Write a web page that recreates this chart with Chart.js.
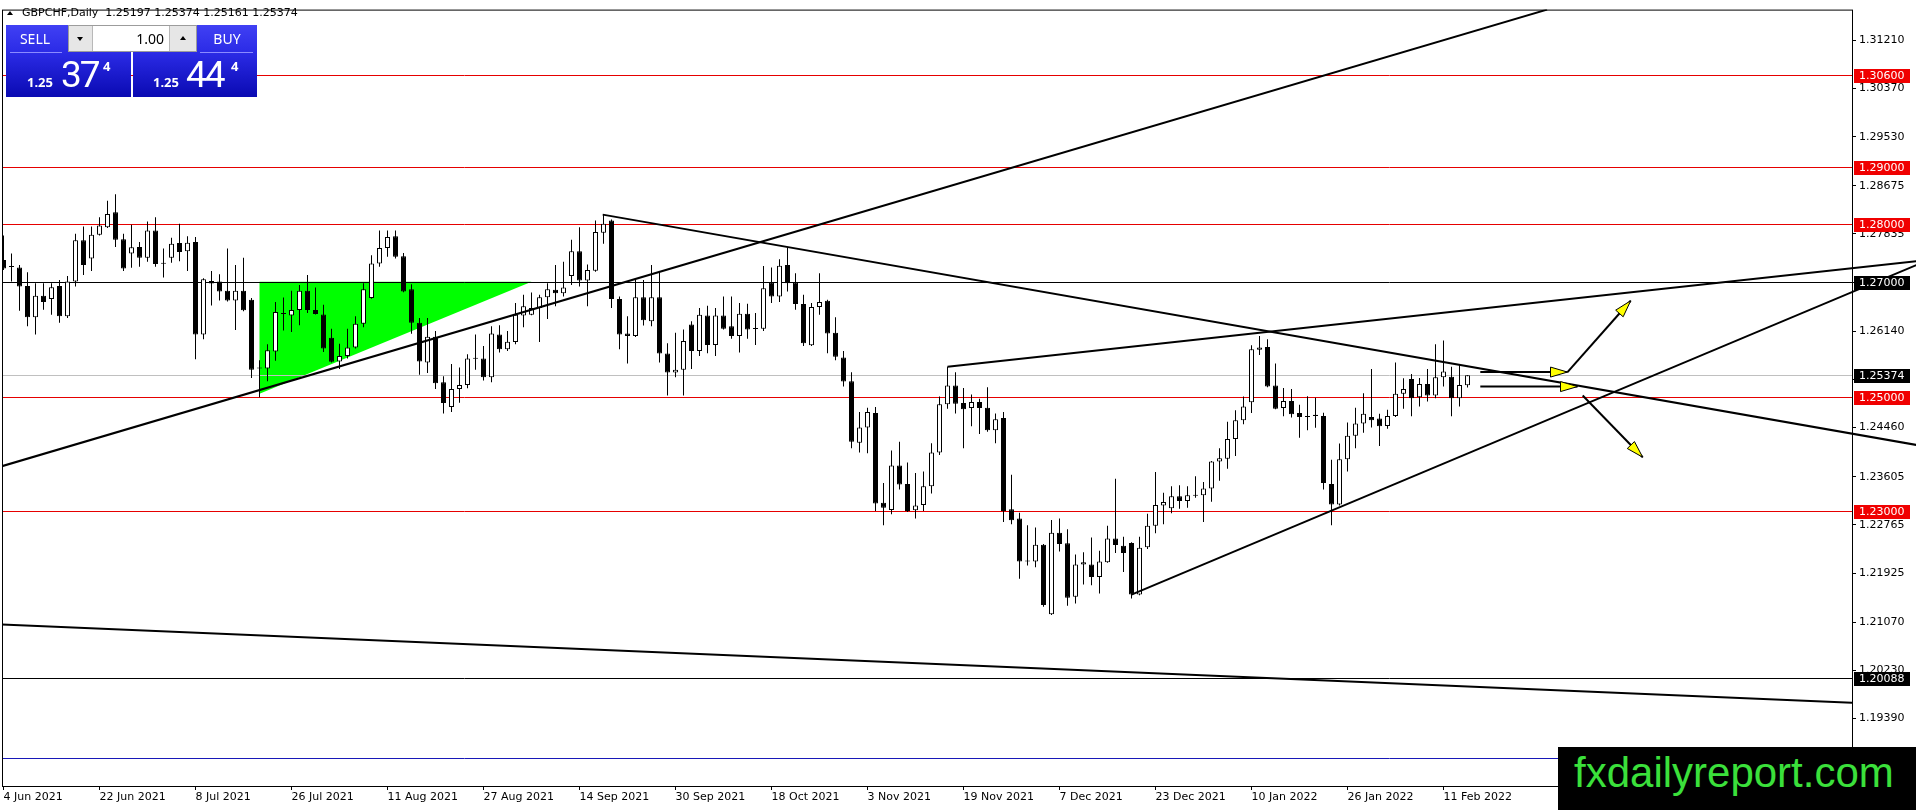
<!DOCTYPE html>
<html>
<head>
<meta charset="utf-8">
<script src="https://cdn.jsdelivr.net/npm/chart.js@4.4.1/dist/chart.umd.min.js"></script>
<style>
html, body { margin: 0; padding: 0; background: #fff; overflow: hidden; }
#wrap { position: relative; width: 1916px; height: 810px; }
#chart { position: absolute; left: 0; top: 0; }
.abs { position: absolute; }
.hdr { left: 22px; top: 6px; font: 11px "DejaVu Sans"; line-height: 13px; white-space: pre; color: #000; }
.tri-up { width: 0; height: 0; border-left: 3.5px solid transparent; border-right: 3.5px solid transparent; border-bottom: 4px solid #000; }
.tri-dn { width: 0; height: 0; border-left: 3.5px solid transparent; border-right: 3.5px solid transparent; border-top: 4px solid #000; }
.btn { top: 25px; height: 72px; background: linear-gradient(to bottom, #4040f4 0%, #2b2be6 38%, #0a0ab2 100%); }
.lbl { color: #fff; font: 14px "Noto Sans"; text-align: center; line-height: 27px; top: 25px; height: 27px; }
.sep { top: 52px; height: 1px; background: #8a8aff; }
.ctrl { left: 68px; top: 25px; width: 129px; height: 27px; box-sizing: border-box; background: #e6e6e6; border: 1px solid #9c9c9c; }
.inp { left: 92px; top: 26px; width: 78px; height: 25px; background: #fff; box-sizing: border-box; border-left: 1px solid #b8b8b8; border-right: 1px solid #b8b8b8; font: 14px "Noto Sans"; text-align: right; line-height: 25px; padding-right: 5px; color: #000; }
.small { color: #fff; font: bold 13px "Noto Sans"; line-height: 13px; }
.big { color: #fff; font: 37px Roboto; line-height: 37px; letter-spacing: -2px; }
.sup { color: #fff; font: bold 13px "Noto Sans"; line-height: 13px; }
.wm { left: 1558px; top: 747px; width: 358px; height: 63px; background: #000; }
.wmtext { left: 1574px; top: 752px; font: 42px "Liberation Sans"; line-height: 42px; color: #3be03b; white-space: pre; }
</style>
</head>
<body>
<div id="wrap">
  <canvas id="chart" width="1916" height="810"></canvas>

  <div class="abs tri-up" style="left:7px; top:11px;"></div>
  <div class="abs hdr">GBPCHF,Daily  1.25197 1.25374 1.25161 1.25374</div>

  <div class="abs btn" style="left:6px; width:125px;"></div>
  <div class="abs btn" style="left:133px; width:124px;"></div>
  <div class="abs lbl" style="left:6px; width:58px;">SELL</div>
  <div class="abs lbl" style="left:197px; width:60px;">BUY</div>
  <div class="abs sep" style="left:10px; width:52px;"></div>
  <div class="abs sep" style="left:200px; width:53px;"></div>
  <div class="abs ctrl"></div>
  <div class="abs tri-dn" style="left:77px; top:37px;"></div>
  <div class="abs inp">1.00</div>
  <div class="abs tri-up" style="left:180px; top:36px;"></div>

  <div class="abs small" style="left:27px; top:76px;">1.25</div>
  <div class="abs big" style="left:61px; top:56px;">37</div>
  <div class="abs sup" style="left:103px; top:60px;">4</div>
  <div class="abs small" style="left:153px; top:76px;">1.25</div>
  <div class="abs big" style="left:186px; top:56px;">44</div>
  <div class="abs sup" style="left:231px; top:60px;">4</div>

  <div class="abs wm"></div>
  <div class="abs wmtext">fxdailyreport.com</div>
</div>

<script>
// one label every 12 daily bars, first bar = 4 Jun 2021
const xTickLabels = ["4 Jun 2021", "22 Jun 2021", "8 Jul 2021", "26 Jul 2021", "11 Aug 2021",
    "27 Aug 2021", "14 Sep 2021", "30 Sep 2021", "18 Oct 2021", "3 Nov 2021", "19 Nov 2021",
    "7 Dec 2021", "23 Dec 2021", "10 Jan 2022", "26 Jan 2022", "11 Feb 2022"];
const barsPerLabel = 12;

const yTicks = [1.31210, 1.30370, 1.29530, 1.28675, 1.27835, 1.26995, 1.26140, 1.25300,
    1.24460, 1.23605, 1.22765, 1.21925, 1.21070, 1.20230, 1.19390];

const opens = [
    1.27379, 1.27270, 1.27252, 1.26930, 1.26383, 1.26757, 1.26700, 1.26930, 1.26401, 1.27005,
    1.27724, 1.27407, 1.27822, 1.27954, 1.28213, 1.27741, 1.27494, 1.27609, 1.27419, 1.27896,
    1.27321, 1.27419, 1.27678, 1.27534, 1.27695, 1.26084, 1.27016, 1.27005, 1.26844, 1.26677,
    1.26844, 1.26688, 1.25496, 1.25492, 1.25785, 1.26447, 1.26412, 1.26510, 1.26844, 1.26510,
    1.26430, 1.26027, 1.25613, 1.25710, 1.25854, 1.26268, 1.26717, 1.27321, 1.27592, 1.27793,
    1.27448, 1.26872, 1.26286, 1.25595, 1.26044, 1.25250, 1.24819, 1.25135, 1.25204, 1.25664,
    1.25664, 1.25336, 1.26084, 1.25825, 1.25952, 1.26412, 1.26429, 1.26544, 1.26734, 1.26861,
    1.26803, 1.27102, 1.27534, 1.27022, 1.27194, 1.27856, 1.28070, 1.26700, 1.26101, 1.26055,
    1.26734, 1.26314, 1.26734, 1.25750, 1.25422, 1.25468, 1.26257, 1.25796, 1.26412, 1.25900,
    1.26412, 1.26228, 1.26055, 1.26446, 1.26180, 1.26182, 1.26987, 1.26746, 1.27292, 1.26987,
    1.26614, 1.25894, 1.26562, 1.26671, 1.26113, 1.25682, 1.25267, 1.24197, 1.24462, 1.24715,
    1.23150, 1.23024, 1.23800, 1.23478, 1.23018, 1.23110, 1.23438, 1.24025, 1.24865, 1.25193,
    1.24888, 1.24801, 1.24905, 1.24807, 1.24416, 1.24629, 1.23035, 1.22874, 1.22144, 1.22126,
    1.22420, 1.21206, 1.22627, 1.22443, 1.21511, 1.22075, 1.22075, 1.21856, 1.22115, 1.22529,
    1.22402, 1.22450, 1.21551, 1.22374, 1.22748, 1.23104, 1.23053, 1.23265, 1.23179, 1.23283,
    1.23283, 1.23398, 1.23869, 1.23916, 1.24261, 1.24589, 1.24904, 1.25819, 1.25865, 1.25192,
    1.24801, 1.24922, 1.24715, 1.24650, 1.24686, 1.24663, 1.23478, 1.23121, 1.23909, 1.24318,
    1.24531, 1.24646, 1.24617, 1.24490, 1.24663, 1.25048, 1.25307, 1.24991, 1.25221, 1.25020,
    1.25336, 1.25347, 1.24973, 1.25197];

const highs = [
    1.27810, 1.27494, 1.27292, 1.27166, 1.26976, 1.26976, 1.26976, 1.27033, 1.27102, 1.27839,
    1.27965, 1.27965, 1.28126, 1.28414, 1.28529, 1.27839, 1.27994, 1.27695, 1.28052, 1.28126,
    1.27580, 1.27770, 1.28011, 1.27793, 1.27781, 1.27062, 1.27189, 1.27131, 1.27580, 1.27292,
    1.27419, 1.26717, 1.25636, 1.25912, 1.26648, 1.26729, 1.26844, 1.26947, 1.27120, 1.26901,
    1.26602, 1.26182, 1.25923, 1.26182, 1.26401, 1.26976, 1.27465, 1.27897, 1.27897, 1.27897,
    1.27505, 1.26959, 1.26372, 1.26372, 1.26142, 1.25354, 1.25567, 1.25509, 1.25739, 1.26084,
    1.25883, 1.26228, 1.26245, 1.26142, 1.26631, 1.26774, 1.26815, 1.26774, 1.26976, 1.27292,
    1.27350, 1.27735, 1.27954, 1.27304, 1.28069, 1.28172, 1.28086, 1.26746, 1.26400, 1.27033,
    1.27033, 1.27292, 1.27177, 1.25929, 1.26113, 1.26170, 1.26314, 1.26544, 1.26585, 1.26544,
    1.26746, 1.26746, 1.26631, 1.26619, 1.26458, 1.27275, 1.27252, 1.27396, 1.27600, 1.27149,
    1.26775, 1.26631, 1.27149, 1.26688, 1.26383, 1.25797, 1.25423, 1.24732, 1.24807, 1.24819,
    1.23495, 1.24059, 1.24215, 1.23852, 1.23668, 1.23697, 1.24186, 1.25003, 1.25520, 1.25423,
    1.25152, 1.25037, 1.24962, 1.25164, 1.24704, 1.24732, 1.23639, 1.22978, 1.22759, 1.22719,
    1.22431, 1.22851, 1.22874, 1.22690, 1.22247, 1.22287, 1.22546, 1.22316, 1.22748, 1.23570,
    1.22558, 1.22460, 1.22558, 1.22960, 1.23685, 1.23323, 1.23438, 1.23455, 1.23438, 1.23611,
    1.23513, 1.23880, 1.24100, 1.24560, 1.24761, 1.25003, 1.25894, 1.26055, 1.25998, 1.25578,
    1.25152, 1.25135, 1.24858, 1.25008, 1.24979, 1.24720, 1.23898, 1.24185, 1.24548, 1.24807,
    1.25060, 1.25480, 1.24703, 1.24772, 1.25595, 1.25319, 1.25393, 1.25324, 1.25480, 1.25911,
    1.25980, 1.25520, 1.25549, 1.25374];

const lows = [
    1.27206, 1.27005, 1.26498, 1.26228, 1.26084, 1.26516, 1.26429, 1.26286, 1.26372, 1.26918,
    1.27120, 1.27189, 1.27810, 1.27937, 1.27609, 1.27189, 1.27246, 1.27264, 1.27350, 1.27264,
    1.27074, 1.27333, 1.27361, 1.27189, 1.25653, 1.25998, 1.26590, 1.26677, 1.26659, 1.26159,
    1.26487, 1.25325, 1.24991, 1.25267, 1.25624, 1.26153, 1.26125, 1.26245, 1.26458, 1.26430,
    1.25779, 1.25595, 1.25480, 1.25664, 1.25837, 1.26211, 1.26706, 1.27264, 1.27436, 1.27408,
    1.26821, 1.26096, 1.25382, 1.25411, 1.25135, 1.24704, 1.24732, 1.24893, 1.25147, 1.25469,
    1.25279, 1.25250, 1.25768, 1.25797, 1.25911, 1.26211, 1.26420, 1.25952, 1.26354, 1.26573,
    1.26746, 1.26947, 1.26918, 1.26573, 1.27177, 1.27666, 1.26544, 1.25825, 1.25578, 1.26038,
    1.26239, 1.26228, 1.25595, 1.25020, 1.25336, 1.25020, 1.25480, 1.25710, 1.25756, 1.25710,
    1.26170, 1.26009, 1.25768, 1.26009, 1.25900, 1.26142, 1.26631, 1.26648, 1.26832, 1.26516,
    1.25883, 1.25883, 1.26429, 1.25756, 1.25636, 1.25175, 1.24099, 1.24025, 1.24013, 1.23006,
    1.22759, 1.22949, 1.23380, 1.22989, 1.22874, 1.23006, 1.23311, 1.23984, 1.24790, 1.24704,
    1.24099, 1.24485, 1.24347, 1.24387, 1.24186, 1.22817, 1.22776, 1.21827, 1.22057, 1.22028,
    1.21338, 1.21195, 1.22299, 1.21355, 1.21396, 1.21724, 1.21712, 1.21568, 1.22103, 1.22276,
    1.21942, 1.21482, 1.21540, 1.22345, 1.22621, 1.22776, 1.22966, 1.23047, 1.23064, 1.23237,
    1.22817, 1.23168, 1.23536, 1.23743, 1.23967, 1.24520, 1.24715, 1.25727, 1.25163, 1.24778,
    1.24657, 1.24634, 1.24283, 1.24415, 1.24456, 1.23380, 1.22759, 1.23104, 1.23696, 1.24099,
    1.24369, 1.24461, 1.24139, 1.24438, 1.24646, 1.24789, 1.24657, 1.24830, 1.24916, 1.24973,
    1.25175, 1.24657, 1.24830, 1.25161];

const closes = [
    1.27235, 1.27258, 1.26918, 1.26383, 1.26757, 1.26648, 1.26907, 1.26401, 1.27005, 1.27724,
    1.27292, 1.27822, 1.27983, 1.28184, 1.27735, 1.27235, 1.27603, 1.27419, 1.27896, 1.27310,
    1.27315, 1.27666, 1.27522, 1.27683, 1.26084, 1.27045, 1.26970, 1.26832, 1.26677, 1.26844,
    1.26504, 1.25469, 1.25490, 1.25808, 1.26476, 1.26441, 1.26510, 1.26844, 1.26510, 1.26441,
    1.25837, 1.25607, 1.25710, 1.25854, 1.26268, 1.26872, 1.27321, 1.27592, 1.27781, 1.27436,
    1.26832, 1.26286, 1.25613, 1.26044, 1.25233, 1.24888, 1.25135, 1.25204, 1.25664, 1.25658,
    1.25336, 1.26102, 1.25825, 1.25958, 1.26429, 1.26573, 1.26544, 1.26734, 1.26872, 1.26803,
    1.26901, 1.27534, 1.27022, 1.27206, 1.27867, 1.28011, 1.26700, 1.26084, 1.26055, 1.26734,
    1.26331, 1.26734, 1.25750, 1.25422, 1.25468, 1.25969, 1.25796, 1.26429, 1.25900, 1.26412,
    1.26182, 1.26055, 1.26446, 1.26170, 1.26185, 1.26890, 1.26746, 1.27281, 1.26976, 1.26614,
    1.25929, 1.26562, 1.26648, 1.26102, 1.25693, 1.25262, 1.24215, 1.24462, 1.24732, 1.23139,
    1.23064, 1.23800, 1.23467, 1.23006, 1.23104, 1.23438, 1.24025, 1.24865, 1.25193, 1.24876,
    1.24778, 1.24905, 1.24801, 1.24416, 1.24606, 1.23007, 1.22845, 1.22126, 1.22126, 1.22420,
    1.21367, 1.22627, 1.22431, 1.21494, 1.22075, 1.22115, 1.21856, 1.22126, 1.22529, 1.22414,
    1.22276, 1.21551, 1.22368, 1.22748, 1.23110, 1.23162, 1.23265, 1.23179, 1.23283, 1.23271,
    1.23398, 1.23869, 1.23927, 1.24261, 1.24589, 1.24830, 1.25825, 1.25854, 1.25175, 1.24789,
    1.24922, 1.24692, 1.24646, 1.24643, 1.24663, 1.23495, 1.23121, 1.23909, 1.24318, 1.24531,
    1.24703, 1.24588, 1.24484, 1.24663, 1.25048, 1.25135, 1.24973, 1.25221, 1.25020, 1.25336,
    1.25439, 1.24973, 1.25204, 1.25374];

// horizontal levels
const redLevels = [1.30600, 1.29000, 1.28000, 1.25000, 1.23000];
const blackLevels = [1.27000, 1.20088];
const bidLevel = 1.25374;
const blueLevel = 1.18697;

// drawn objects, as [bar index, price]
const upTrend = [[-0.19, 1.23788], [192.95, 1.31745]];
const downTrend = [[74.9, 1.28172], [239.1, 1.24158]];
const wedgeTop = [[118, 1.25520], [239.1, 1.27361]];
const wedgeBottom = [[141, 1.21550], [239.1, 1.27292]];
const baseLine = [[-0.19, 1.21030], [231.06, 1.19663]];
const greenTriangle = [[32, 1.27000], [66, 1.27000], [32, 1.25048]];
const arrowFrom = [[184.6, 1.25428], [195.5, 1.25428], [184.6, 1.25175], [197.4, 1.25020]];
const arrowTo = [[195.5, 1.25428], [203.4, 1.26671], [196.75, 1.25175], [204.9, 1.23944]];

const idx = opens.map((o, i) => i);
const wickData = idx.map(i => ({ x: i, y: [lows[i], highs[i]] }));
const bodyData = idx.map(i => ({ x: i, y: [Math.min(opens[i], closes[i]), Math.max(opens[i], closes[i])] }));
const bodyColors = idx.map(i => (closes[i] >= opens[i] ? "#ffffff" : "#000000"));

function lineSet(pts, clip) {
    let ds = {
        type: "line",
        data: pts.map(p => ({ x: p[0], y: p[1] })),
        borderColor: "#000",
        borderWidth: 2,
        pointRadius: 0,
        tension: 0,
        order: 1,
    };
    if (!clip) ds.clip = false;
    return ds;
}

function arrowHead(ctx, x0, y0, x1, y1) {
    const a = Math.atan2(y1 - y0, x1 - x0);
    const L = 17, W = 5;
    const bx = x1 - L * Math.cos(a), by = y1 - L * Math.sin(a);
    const nx = -Math.sin(a) * W, ny = Math.cos(a) * W;
    ctx.beginPath();
    ctx.moveTo(x1, y1);
    ctx.lineTo(bx + nx, by + ny);
    ctx.lineTo(bx - nx, by - ny);
    ctx.closePath();
    ctx.fillStyle = "#ffff00";
    ctx.fill();
    ctx.strokeStyle = "#000";
    ctx.lineWidth = 1;
    ctx.stroke();
}

const overlay = {
    id: "overlay",
    beforeDatasetsDraw(chart) {
        const { ctx, chartArea: a, scales: { x, y } } = chart;
        ctx.save();
        ctx.beginPath();
        ctx.rect(a.left, a.top, a.right - a.left, a.bottom - a.top);
        ctx.clip();

        // green triangle
        ctx.fillStyle = "#00ff00";
        ctx.beginPath();
        greenTriangle.forEach((p, k) => {
            const px = x.getPixelForValue(p[0]), py = y.getPixelForValue(p[1]);
            if (k) ctx.lineTo(px, py); else ctx.moveTo(px, py);
        });
        ctx.closePath();
        ctx.fill();

        const hline = (v, color) => {
            const py = Math.round(y.getPixelForValue(v)) + 0.5;
            ctx.strokeStyle = color;
            ctx.lineWidth = 1;
            ctx.beginPath();
            ctx.moveTo(a.left, py);
            ctx.lineTo(a.right, py);
            ctx.stroke();
        };
        hline(bidLevel, "#c0c0c0");
        redLevels.forEach(v => hline(v, "#e60000"));
        blackLevels.forEach(v => hline(v, "#000000"));
        hline(blueLevel, "#1818b8");
        ctx.restore();
    },
    afterDraw(chart) {
        const { ctx, chartArea: a, scales: { x, y } } = chart;
        ctx.save();

        // arrows
        for (let k = 0; k < arrowFrom.length; k++) {
            const x0 = x.getPixelForValue(arrowFrom[k][0]), y0 = y.getPixelForValue(arrowFrom[k][1]);
            const x1 = x.getPixelForValue(arrowTo[k][0]), y1 = y.getPixelForValue(arrowTo[k][1]);
            ctx.strokeStyle = "#000";
            ctx.lineWidth = 2;
            ctx.beginPath();
            ctx.moveTo(x0, y0);
            ctx.lineTo(x1, y1);
            ctx.stroke();
        }
        for (let k = 0; k < arrowFrom.length; k++) {
            arrowHead(ctx,
                x.getPixelForValue(arrowFrom[k][0]), y.getPixelForValue(arrowFrom[k][1]),
                x.getPixelForValue(arrowTo[k][0]), y.getPixelForValue(arrowTo[k][1]));
        }

        // frame
        ctx.strokeStyle = "#000";
        ctx.lineWidth = 1;
        ctx.strokeRect(a.left + 0.5, a.top + 0.5, a.right - a.left, a.bottom - a.top);

        // price tags on the axis
        ctx.font = "11px 'DejaVu Sans'";
        ctx.textBaseline = "middle";
        ctx.textAlign = "left";
        const tag = (v, bg) => {
            const py = Math.round(y.getPixelForValue(v));
            ctx.fillStyle = bg;
            ctx.fillRect(a.right + 2, py - 6, 56, 14);
            ctx.fillStyle = "#fff";
            ctx.fillText(v.toFixed(5), a.right + 7, py + 1);
        };
        redLevels.forEach(v => tag(v, "#f00000"));
        blackLevels.forEach(v => tag(v, "#000000"));
        tag(bidLevel, "#000000");
        ctx.restore();
    },
};

Chart.defaults.font.family = "'DejaVu Sans'";
Chart.defaults.font.size = 11;
Chart.defaults.color = "#000";

const ctx = document.getElementById("chart").getContext("2d");
new Chart(ctx, {
    type: "bar",
    data: {
        datasets: [
            {
                type: "bar",
                data: wickData,
                backgroundColor: "#000",
                borderWidth: 0,
                grouped: false,
                maxBarThickness: 1,
                order: 3,
            },
            {
                type: "bar",
                data: bodyData,
                backgroundColor: bodyColors,
                borderColor: "#000",
                borderWidth: 1,
                borderSkipped: false,
                grouped: false,
                maxBarThickness: 5,
                minBarLength: 1,
                order: 2,
            },
            lineSet(upTrend, true),
            lineSet(baseLine, true),
            lineSet(downTrend, false),
            lineSet(wedgeTop, false),
            lineSet(wedgeBottom, false),
        ],
    },
    options: {
        responsive: false,
        animation: false,
        devicePixelRatio: 1,
        events: [],
        layout: { padding: { left: 2, top: 2, right: 0, bottom: 0 } },
        plugins: { legend: { display: false }, tooltip: { enabled: false } },
        scales: {
            x: {
                type: "linear",
                position: "bottom",
                min: -0.1875,
                max: 231.0625,
                bounds: "data",
                offset: false,
                border: { display: false },
                grid: { offset: false, drawOnChartArea: false, drawTicks: true, tickLength: 4, color: "#000" },
                ticks: {
                    align: "start",
                    padding: 1,
                    maxRotation: 0,
                    autoSkip: false,
                    font: { size: 11, family: "'DejaVu Sans'" },
                    callback: (v) => xTickLabels[Math.round(v / barsPerLabel)],
                },
                afterBuildTicks: (s) => {
                    s.ticks = xTickLabels.map((l, k) => ({ value: k * barsPerLabel }));
                },
                afterFit: (s) => { s.height = 24; },
            },
            y: {
                type: "linear",
                position: "right",
                min: 1.18214,
                max: 1.31745,
                bounds: "data",
                border: { display: false },
                grid: { drawOnChartArea: false, drawTicks: true, tickLength: 4, color: "#000" },
                ticks: {
                    padding: 3,
                    autoSkip: false,
                    font: { size: 11, family: "'DejaVu Sans'" },
                    callback: (v) => v.toFixed(5),
                },
                afterBuildTicks: (s) => {
                    s.ticks = yTicks.map(v => ({ value: v }));
                },
                afterFit: (s) => { s.width = 64; },
            },
        },
    },
    plugins: [overlay],
});
</script>
</body>
</html>
